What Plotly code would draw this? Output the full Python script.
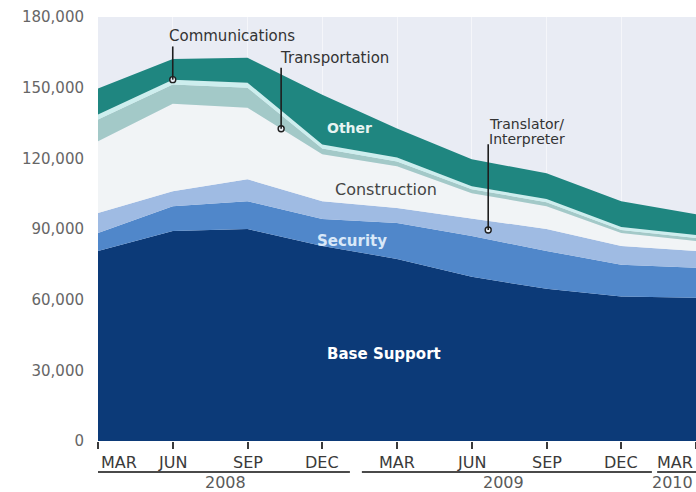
import numpy as np
import plotly.graph_objects as go

# Quarterly contractor headcount, March 2008 - March 2010
quarters = ["MAR", "JUN", "SEP", "DEC", "MAR", "JUN", "SEP", "DEC", "MAR"]
years = ["2008", "2009", "2010"]

base_support = [80700, 89100, 90000, 82800, 77300, 69700, 64600, 61300, 60800]
security = [7600, 10600, 11800, 11400, 15200, 17300, 16100, 13500, 12700]
translator = [8500, 6300, 9300, 7600, 6400, 7600, 9300, 8000, 7200]
construction = [30400, 37200, 30400, 19900, 17700, 10600, 9700, 5500, 4200]
transportation = [9300, 8100, 8500, 2500, 2100, 1700, 1700, 1300, 1300]
communications = [2100, 2100, 2100, 1700, 1700, 1300, 1300, 1200, 1300]
other = [11000, 8800, 10600, 21100, 12300, 11400, 11000, 11000, 8800]

y_ticks = [0, 30000, 60000, 90000, 120000, 150000, 180000]

x = np.arange(len(quarters))

layers = [
    ("Base Support", base_support, "#0c3a78"),
    ("Security", security, "#5087ca"),
    ("Translator/Interpreter", translator, "#9fbbe3"),
    ("Construction", construction, "#f1f4f6"),
    ("Transportation", transportation, "#a3c9c8"),
    ("Communications", communications, "#cdeeee"),
    ("Other", other, "#1f8680"),
]

FONT = "DejaVu Sans"
fig = go.Figure()
for name, vals, color in layers:
    fig.add_trace(go.Scatter(
        x=x, y=vals, name=name, stackgroup="all", mode="lines",
        line=dict(width=0, color=color), fillcolor=color,
        hoverinfo="skip", showlegend=False,
    ))

# cumulative boundaries used to anchor the pointer callouts
cum = np.cumsum([np.array(v, dtype=float) for _, v, _ in layers], axis=0)
top_of = {name: cum[i] for i, (name, _, _) in enumerate(layers)}
bot_of = {name: (cum[i - 1] if i else np.zeros(len(x))) for i, (name, _, _) in enumerate(layers)}

def at(arr, xp):
    return float(np.interp(xp, x, arr))

pointers = [
    # (x position, start y, end y)
    (1.0, 167500, at(top_of["Communications"], 1.0)),
    (2.45, 158500, at(bot_of["Transportation"], 2.45)),
    (5.22, 126000, at((bot_of["Translator/Interpreter"] + top_of["Translator/Interpreter"]) / 2, 5.22)),
]
for px_, y0, y1 in pointers:
    fig.add_shape(type="line", xref="x", yref="y", x0=px_, x1=px_, y0=y0, y1=y1,
                  line=dict(color="#1e1e1e", width=1.6))
fig.add_trace(go.Scatter(
    x=[p[0] for p in pointers], y=[p[2] for p in pointers], mode="markers",
    marker=dict(symbol="circle", size=6, color="#e9eef5", line=dict(color="#1e1e1e", width=1.4)),
    hoverinfo="skip", showlegend=False,
))

# callout labels
callout_font = dict(family=FONT, size=15, color="#333333")
fig.add_annotation(x=0.92, y=171900, xref="x", yref="y", text="Communications", showarrow=False,
                   xanchor="left", yanchor="middle", font=callout_font)
fig.add_annotation(x=2.41, y=162600, xref="x", yref="y", text="Transportation", showarrow=False,
                   xanchor="left", yanchor="middle", font=callout_font)
fig.add_annotation(x=5.20, y=134700, xref="x", yref="y", text="Translator/", showarrow=False,
                   xanchor="left", yanchor="middle", font=dict(family=FONT, size=14, color="#333333"))
fig.add_annotation(x=5.20, y=128300, xref="x", yref="y", text="Interpreter", showarrow=False,
                   xanchor="left", yanchor="middle", font=dict(family=FONT, size=14, color="#333333"))

# in-band labels
fig.add_annotation(x=3.37, y=132800, xref="x", yref="y", text="<b>Other</b>", showarrow=False,
                   font=dict(family=FONT, size=14, color="#e8f4f2"))
fig.add_annotation(x=3.85, y=106800, xref="x", yref="y", text="Construction", showarrow=False,
                   font=dict(family=FONT, size=16, color="#444444"))
fig.add_annotation(x=3.40, y=84900, xref="x", yref="y", text="<b>Security</b>", showarrow=False,
                   font=dict(family=FONT, size=15, color="#d9e8f8"))
fig.add_annotation(x=3.83, y=36900, xref="x", yref="y", text="<b>Base Support</b>", showarrow=False,
                   font=dict(family=FONT, size=15, color="#ffffff"))

# month labels under the ticks (the two end labels are kept inside the frame)
last = len(quarters) - 1
for i, q in enumerate(quarters):
    if i == 0:
        anchor, shift = "center", 21
    elif i == last:
        anchor, shift = "right", -1
    else:
        anchor, shift = "center", 0
    fig.add_annotation(x=x[i], y=-0.05, xref="x", yref="paper", text=q, showarrow=False,
                       xanchor=anchor, xshift=shift, yanchor="middle",
                       font=dict(family=FONT, size=16, color="#3a3a3a"))

# year brackets
year_spans = [(-0.03, 3.37, 1.70, "center"), (3.53, 7.41, 5.42, "center"), (7.48, 8.2, 8.0, "right")]
for (a, b, c, anchor), yr in zip(year_spans, years):
    fig.add_shape(type="line", xref="x", yref="paper", x0=a, x1=b, y0=-0.073, y1=-0.073,
                  line=dict(color="#4a4a4a", width=2))
    fig.add_annotation(x=c, y=-0.099, xref="x", yref="paper", text=yr, showarrow=False,
                       xanchor=anchor, xshift=(-1 if anchor == "right" else 0), yanchor="middle",
                       font=dict(family=FONT, size=16, color="#5a5a5a"))

fig.update_layout(
    width=696, height=492,
    margin=dict(l=98, r=0, t=17, b=51),
    paper_bgcolor="#ffffff", plot_bgcolor="#e9ecf4",
    xaxis=dict(range=[0, 8], tickvals=list(x), showticklabels=False, ticks="outside",
               ticklen=7, tickwidth=1.5, tickcolor="#3a3a3a", showgrid=True,
               gridcolor="rgba(255,255,255,0.55)", gridwidth=1, zeroline=False, showline=False),
    yaxis=dict(range=[0, 180000], tickvals=y_ticks, ticktext=[f"{v:,}" for v in y_ticks],
               tickfont=dict(family=FONT, size=15, color="#666666"), showgrid=False,
               zeroline=False, showline=False, ticks="", ticklabelstandoff=13),
)

fig.write_html("out.html")
